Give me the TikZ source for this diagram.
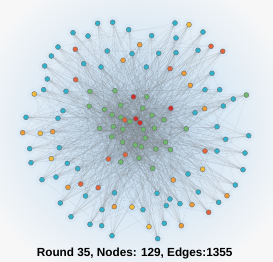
\documentclass[tikz,border=0pt]{standalone}
\usepackage{fontspec}
\setmainfont{Liberation Sans}
\definecolor{bgcol}{HTML}{F7F7F7}
\definecolor{tcyan}{HTML}{2FB3CD}
\definecolor{tgreen}{HTML}{6DB86D}
\definecolor{tyel}{HTML}{F2BC3A}
\definecolor{torg}{HTML}{EE9A36}
\definecolor{tred}{HTML}{E2643C}
\definecolor{tcrim}{HTML}{D02C2C}
\definecolor{glow}{HTML}{8EC3EE}
\pgfdeclarelayer{bg}
\pgfdeclarelayer{edges}
\pgfsetlayers{bg,edges,main}
\begin{document}
\begin{tikzpicture}[x=1pt,y=-1pt,
    dot/.style={circle,draw=black!55,line width=0.4pt,inner sep=0pt,minimum size=5pt},
    link/.style={draw=black!50,line width=0.2pt,opacity=0.2},
    halo/.style={fill=glow,opacity=0.08}]
    \useasboundingbox (0,0) rectangle (273,262);
    \begin{pgfonlayer}{bg}
        \fill[bgcol] (0,0) rectangle (273,262);
        \shade[inner color=glow!60!bgcol,outer color=bgcol] (135,128) circle (165);
    \end{pgfonlayer}

    % inner nodes
    \foreach \nm/\x/\y/\col in {
        c1/90/91.5/tgreen, c2/115/90.7/tgreen, c3/133.5/96.8/tcrim, c4/146.8/96.8/tgreen,
        c5/89.2/106.2/tgreen, c6/120.7/105.2/tgreen, c7/142.8/108.3/tgreen, c8/170.8/108.3/tcrim,
        c9/104.5/109.5/tgreen, c10/112/114.8/tgreen, c11/120.8/117.3/tgreen, c12/124.7/120/tred,
        c13/130/121.5/tgreen, c14/135.8/118.7/tcrim, c15/140/122.8/tcrim, c16/152/115.2/tgreen,
        c17/164/119.8/tgreen, c18/99.5/128.5/tgreen, c19/113.3/126.7/tgreen, c20/122.8/129.2/tgreen,
        c21/143.3/129.5/tgreen, c22/154.5/128.2/tgreen, c23/186.2/128.8/tgreen, c24/111.7/136.8/tgreen,
        c25/145.2/138/tgreen, c26/165.5/142.2/tgreen, c27/122.5/142.2/tgreen, c28/135.2/145/tgreen,
        c29/141.3/146.7/tgreen, c30/155.8/149/tgreen, c31/170.5/149.7/tgreen, c32/125.3/154.7/tred,
        c33/108.5/159/tred, c34/139/158.2/tgreen, c35/120.8/162/tgreen, c36/152.7/168.5/tgreen}{
        \node[dot,fill=\col] (\nm) at (\x,\y) {};
        \begin{pgfonlayer}{bg}
            \fill[halo] (\nm) circle (6);
        \end{pgfonlayer}
    }

    % outer nodes
    \foreach \nm/\x/\y/\col in {
        p1/97.7/23.3/tcyan, p2/112.7/22.3/tcyan, p3/175/23/tcyan, p4/189/24.7/tyel,
        p5/73/32.7/tcyan, p6/88/36/tcyan, p7/128.7/29.7/tcyan, p8/151.7/35.7/tcyan,
        p9/176/38/tcyan, p10/203/32/tcyan, p11/58/47/tcyan, p12/75.3/49.3/tred,
        p13/107.3/51/tcyan, p14/139.7/44.7/torg, p15/132/53.7/tcyan, p16/158.7/53.3/tcyan,
        p17/176/52.7/tcyan, p18/198/50.3/tcyan, p19/211/46.3/tred, p20/222.7/51.3/tred,
        p21/51.3/56/tcyan, p22/83.7/63.7/tcyan, p23/101/67/tcyan, p24/123/60.3/torg,
        p25/146.3/67/tcyan, p26/170/68.7/tred, p27/184/73.3/torg, p28/212/73.3/tcyan,
        p29/44.7/66/tcyan, p30/47.3/79/tcyan, p31/75.7/79.7/tred, p32/43.7/89.7/tcyan,
        p33/66/91.3/tcyan, p34/190.3/85.3/torg, p35/205/89.7/tcyan, p36/219.7/89.7/tcyan,
        p37/34.3/94/tyel, p38/246.3/95/tgreen, p39/233.3/99/tcyan, p40/204.7/108.7/torg,
        p41/223.3/106/tcyan, p42/63/110.7/tcyan, p43/195/112.7/tcyan, p44/26/117.3/tcyan,
        p45/58/118.3/tcyan, p46/217/126.7/tcyan, p47/22.7/132.7/torg, p48/40.3/133.3/tyel,
        p49/52.7/131.7/torg, p50/248.7/135.7/tcyan, p51/225.7/139.3/tcyan, p52/29.7/148.7/tcyan,
        p53/59.3/147.7/tcyan, p54/205/151/tred, p55/217/151/tcyan, p56/245/153/tcyan,
        p57/51.3/158.7/tyel, p58/31/162.7/tcyan, p59/67.3/163.3/tcyan, p60/77.7/168.7/tcyan,
        p61/202.7/169.3/tyel, p62/243/169.7/tcyan, p63/56/177/tcyan, p64/42/179.7/tcyan,
        p65/188/174/tcyan, p66/173.3/180/torg, p67/80.7/184/tred, p68/68/187.3/torg,
        p69/98.2/187.7/tred, p70/235.3/185/tcyan, p71/114.5/192.8/tcyan, p72/157/193.3/tcyan,
        p73/198.3/192/tcyan, p74/227/195.7/torg, p75/85.5/196/tcyan, p76/60.3/203/tcyan,
        p77/170/199/tcyan, p78/180/203.7/tcyan, p79/192/204.7/torg, p80/218.7/202.3/tcyan,
        p81/114.3/206.7/torg, p82/132/207/tyel, p83/166.3/205.7/tcyan, p84/102/209.7/tcyan,
        p85/143/209.7/tcyan, p86/208.7/212.3/tred, p87/71/216.7/tcyan, p88/101.7/225.7/tcyan,
        p89/90/224.3/tcyan, p90/149/226.7/tyel, p91/164.3/223.3/tcyan, p92/181.3/225.7/torg,
        p93/112/235.7/tcyan, p94/157.7/238.7/tcyan}{
        \node[dot,fill=\col] (\nm) at (\x,\y) {};
        \begin{pgfonlayer}{bg}
            \fill[halo] (\nm) circle (6);
        \end{pgfonlayer}
    }

    \begin{pgfonlayer}{edges}
        \foreach \i in {1,...,94}{
            \foreach \k in {1,...,11}{
                \pgfmathtruncatemacro{\j}{mod(\i*11+3*\k*\k,37)+1}
                \ifnum\j<37 \draw[link] (p\i) -- (c\j);\fi
            }
            \pgfmathtruncatemacro{\q}{mod(\i*29+17,94)+1}
            \ifnum\q=\i\else\draw[link] (p\i) -- (p\q);\fi
        }
        \foreach \i in {1,...,36}{
            \foreach \k in {1,...,9}{
                \pgfmathtruncatemacro{\j}{mod(\i+5*\k*\k,37)+1}
                \ifnum\j<37 \ifnum\j=\i\else\draw[link] (c\i) -- (c\j);\fi\fi
            }
        }
    \end{pgfonlayer}

    \node[font=\bfseries\fontsize{11.75}{14}\selectfont,anchor=base] (title) at (134.7,256) {Round 35, Nodes: 129, Edges:1355};
\end{tikzpicture}
\end{document}
